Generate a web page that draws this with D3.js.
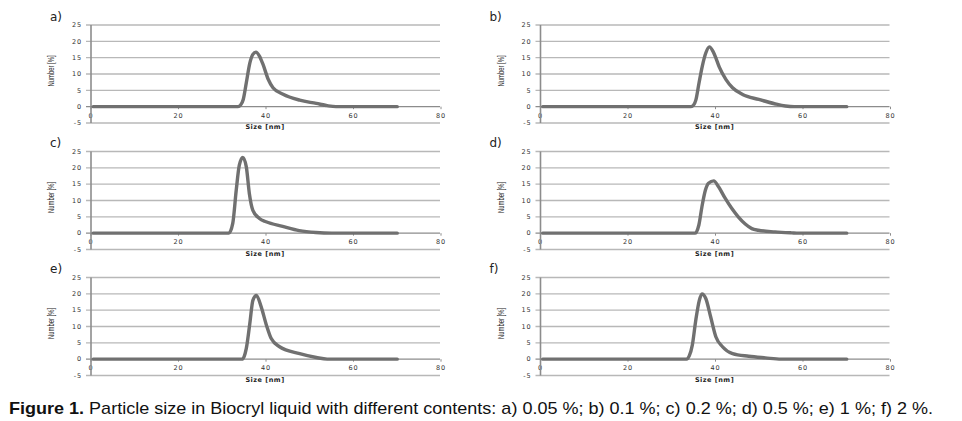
<!DOCTYPE html>
<html><head><meta charset="utf-8">
<script src="https://cdn.jsdelivr.net/npm/d3@7"></script>
<style>body{margin:0;background:#fff}svg{display:block}</style>
</head><body>
<svg id="c" width="962" height="421"></svg>
<script>
const panelLabels = ["a)","b)","c)","d)","e)","f)"];
const xTicks = [0,20,40,60,80];
const yTicks = [-5,0,5,10,15,20,25];
const xTitle = "Size [nm]";
const yTitle = "Number [%]";
const seriesA = [[0.5,0],[33.6,0],[34.2,0.5],[34.8,2.2],[35.5,7.3],[36.3,13.3],[37,16],[37.7,16.7],[38.5,15.5],[39.3,13],[40.5,8.4],[41.6,5.8],[43.9,3.8],[47.7,2],[51.5,1],[54,0.3],[56,0],[70,0]];
const seriesB = [[0.5,0],[34.4,0],[35,0.5],[35.5,2],[36.2,7],[37,12.5],[37.8,16.5],[38.6,18.3],[39.4,17],[40.2,14.5],[40.9,12],[42.4,8.3],[43.9,5.8],[46.2,3.7],[49.9,2.2],[53.5,0.9],[56,0.2],[58,0],[70,0]];
const seriesC = [[0.5,0],[31.5,0],[32.4,3],[33.2,13.2],[33.9,20.8],[34.7,23.2],[35.5,20.3],[36.2,12.1],[37,7],[38.5,4.5],[40,3.5],[43.8,2.1],[47.6,0.8],[51.4,0.2],[55,0],[70,0]];
const seriesD = [[0.5,0],[35.3,0],[36.2,2.5],[36.9,8.1],[37.7,13.2],[38.4,15.3],[39.6,16],[40.7,14.2],[42.2,10.7],[43.7,7.6],[45.2,5],[46.8,2.8],[48.3,1.4],[49.8,0.9],[53.6,0.4],[57.4,0.1],[59,0],[70,0]];
const seriesE = [[0.5,0],[34.5,0],[35,0.8],[35.5,3.3],[36.3,10.9],[37,18],[37.8,19.5],[38.9,16],[40.1,10.4],[41.2,6.3],[43.1,3.8],[47.7,1.7],[51.5,0.5],[54,0],[70,0]];
const seriesF = [[0.5,0],[33.4,0],[34,1],[34.7,4.3],[35.5,12],[36.3,18],[36.9,20],[37.8,18.5],[38.9,12.9],[40.1,6.8],[41.6,3.8],[43.9,1.7],[47.6,0.9],[51.4,0.4],[55,0],[70,0]];
const captionBold = "Figure 1.";
const captionText = " Particle size in Biocryl liquid with different contents: a) 0.05 %; b) 0.1 %; c) 0.2 %; d) 0.5 %; e) 1 %; f) 2 %.";

const allSeries = [seriesA,seriesB,seriesC,seriesD,seriesE,seriesF];
const svg = d3.select("#c");
const colX = [91, 540.5];
const rowTop = [25, 151.5, 277.5];
const pw = 350, ph = 98;

allSeries.forEach((data,i)=>{
  const col = i%2, row = Math.floor(i/2);
  const x0 = colX[col], top = rowTop[row];
  const x = d3.scaleLinear().domain([0,80]).range([x0, x0+pw]);
  const y = d3.scaleLinear().domain([-5,25]).range([top+ph, top]);
  const g = svg.append("g");
  g.selectAll("line.grid").data(yTicks).join("line")
    .attr("x1", x0-5).attr("x2", x0+pw-1)
    .attr("y1", d=>y(d)).attr("y2", d=>y(d))
    .attr("stroke", d=> d===0 ? "#8c8c8c" : "#b8b8b8")
    .attr("stroke-width", 1.3);
  g.selectAll("text.yt").data(yTicks).join("text")
    .attr("x", x0-9).attr("y", d=>y(d)+2.2)
    .attr("text-anchor","end")
    .attr("font-family","DejaVu Sans, sans-serif")
    .attr("font-size", 6.5).attr("letter-spacing", 0.9)
    .attr("fill","#333")
    .text(d=>d);
  g.selectAll("line.xt").data(xTicks).join("line")
    .attr("x1", d=>x(d)).attr("x2", d=>x(d))
    .attr("y1", y(0)).attr("y2", y(0)+2.5)
    .attr("stroke","#8c8c8c").attr("stroke-width",1);
  g.selectAll("text.xt").data(xTicks).join("text")
    .attr("x", d=>x(d)).attr("y", y(0)+11)
    .attr("text-anchor","middle")
    .attr("font-family","DejaVu Sans, sans-serif")
    .attr("font-size", 6.5).attr("letter-spacing", 0.9)
    .attr("fill","#333")
    .text(d=>d);
  g.append("line").attr("x1", x0).attr("x2", x0)
    .attr("y1", y(25)).attr("y2", y(-5))
    .attr("stroke","#8c8c8c").attr("stroke-width",1.6);
  const line = d3.line().x(d=>x(d[0])).y(d=>y(d[1])).curve(d3.curveMonotoneX);
  g.append("path").datum(data).attr("d", line)
    .attr("fill","none").attr("stroke","#707070")
    .attr("stroke-width",3.4).attr("stroke-linejoin","round").attr("stroke-linecap","round");
  g.append("text").attr("x", x0+pw/2-1).attr("y", top+ph+6)
    .attr("text-anchor","middle")
    .attr("font-family","DejaVu Sans, sans-serif")
    .attr("font-size",6.5).attr("font-weight","bold").attr("letter-spacing",0.5)
    .attr("fill","#222").text(xTitle);
  g.append("text")
    .attr("transform", `translate(${x0-37},${top+46}) rotate(-90)`)
    .attr("text-anchor","middle")
    .attr("font-family","Liberation Sans, sans-serif")
    .attr("font-size",9).attr("textLength",31).attr("lengthAdjust","spacingAndGlyphs")
    .attr("fill","#222").text(yTitle);
  g.append("text").attr("x", x0 + (col===0 ? -41 : -51)).attr("y", top-4.5)
    .attr("font-family","DejaVu Sans, sans-serif")
    .attr("font-size",12).attr("fill","#222").text(panelLabels[i]);
});

const cap = svg.append("text").attr("x",9).attr("y",414)
  .attr("font-family","Liberation Sans, sans-serif")
  .attr("font-size",17).attr("fill","#111")
  .attr("textLength",924).attr("lengthAdjust","spacingAndGlyphs");
cap.append("tspan").attr("font-weight","bold").text(captionBold);
cap.append("tspan").text(captionText);
</script>
</body></html>
